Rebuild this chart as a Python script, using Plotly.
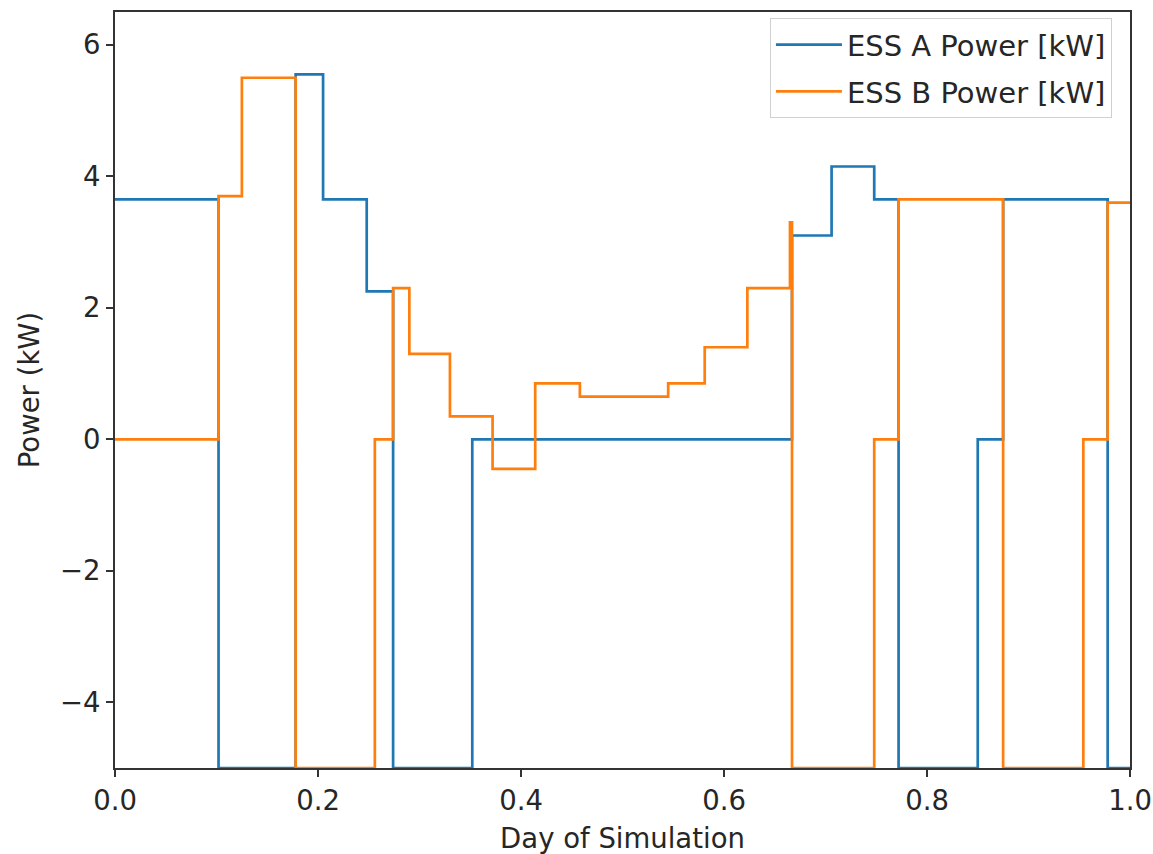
import plotly.graph_objects as go

# ESS A (blue) step breakpoints and levels [kW]
ess_a_x = [0.0, 0.102, 0.178, 0.205, 0.248, 0.274, 0.352, 0.667, 0.706, 0.748, 0.772, 0.850, 0.875, 0.978, 1.0]
ess_a_y = [3.65, -5.0, 5.55, 3.65, 2.25, -5.0, 0.0, 3.1, 4.15, 3.65, -5.0, 0.0, 3.65, -5.0, -5.0]

# ESS B (orange) step breakpoints and levels [kW]
ess_b_x = [0.0, 0.102, 0.125, 0.178, 0.256, 0.274, 0.290, 0.330, 0.372, 0.414, 0.458,
           0.545, 0.581, 0.623, 0.665, 0.667, 0.748, 0.772, 0.875, 0.954, 0.978, 1.0]
ess_b_y = [0.0, 3.7, 5.5, -5.0, 0.0, 2.3, 1.3, 0.35, -0.45, 0.85, 0.65,
           0.85, 1.4, 2.3, 3.3, -5.0, 0.0, 3.65, -5.0, 0.0, 3.6, 3.6]

x_ticks = [0.0, 0.2, 0.4, 0.6, 0.8, 1.0]
y_ticks = [-4, -2, 0, 2, 4, 6]

fig = go.Figure()
fig.add_trace(go.Scatter(x=ess_a_x, y=ess_a_y, mode="lines", line_shape="hv", legendgroup="a",
                         line=dict(color="#1f77b4", width=2.7), name="ESS A Power [kW]"))
fig.add_trace(go.Scatter(x=ess_b_x, y=ess_b_y, mode="lines", line_shape="hv", legendgroup="b",
                         line=dict(color="#ff7f0e", width=2.7), name="ESS B Power [kW]"))

font = "DejaVu Sans"
fs = 27.5
txt = "#262626"
axis_common = dict(showline=True, linecolor="#333", linewidth=2, mirror=True,
                   ticks="outside", ticklen=7, tickwidth=1.8, tickcolor="#333",
                   showgrid=False, zeroline=False, automargin=False,
                   tickfont=dict(family=font, size=fs, color=txt))
fig.update_layout(
    width=1153, height=854,
    paper_bgcolor="white", plot_bgcolor="white",
    margin=dict(l=115, r=23, t=12, b=86),
    xaxis=dict(range=[0, 1], tickvals=x_ticks, ticktext=[f"{v:.1f}" for v in x_ticks],
               title=dict(text="Day of Simulation", font=dict(family=font, size=fs, color=txt), standoff=14),
               **axis_common),
    yaxis=dict(range=[-5, 6.5], tickvals=y_ticks,
               title=dict(text="Power (kW)", font=dict(family=font, size=fs, color=txt), standoff=12),
               **axis_common),
    legend=dict(x=0.982, y=0.992, xanchor="right", yanchor="top",
                bgcolor="rgba(255,255,255,0.85)", bordercolor="#d0d0d0", borderwidth=1.2,
                font=dict(family=font, size=29, color=txt), tracegroupgap=6, itemwidth=66),
    showlegend=True,
)
fig.write_html("out.html", config={"displayModeBar": False},
               post_script="document.body.style.margin='0';document.body.style.overflow='hidden';")
